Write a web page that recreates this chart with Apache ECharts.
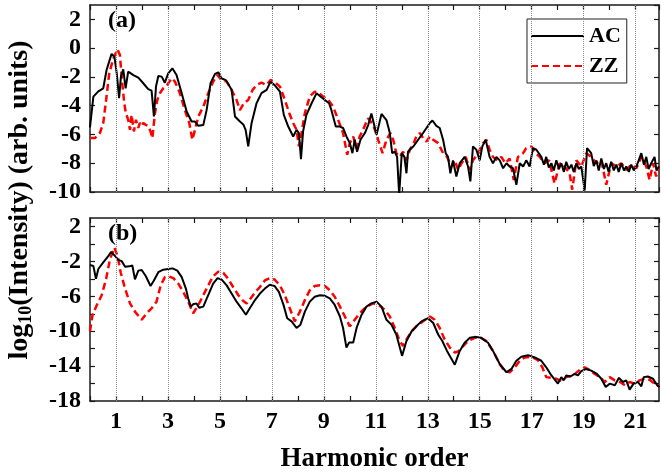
<!DOCTYPE html>
<html>
<head>
<meta charset="utf-8">
<script src="https://cdn.jsdelivr.net/npm/echarts@6/dist/echarts.min.js"></script>
<style>
html,body{margin:0;padding:0;background:#fff;}
#main{width:661px;height:474px;}
</style>
</head>
<body>
<div id="main"></div>
<script>
// harmonic orders with dotted guide lines / labels
var oddOrders = [1,3,5,7,9,11,13,15,17,19,21];
var seriesNames = ['AC','ZZ'];

// panel (a): [harmonic order, log10 intensity]
var acTop = [[0,-5.5],[0.13,-3.37],[0.32,-3.0],[0.51,-2.79],[0.64,-1.5],[0.83,-0.4],[0.94,-0.6],[1.03,-1.75],[1.12,-3.48],[1.19,-1.98],[1.28,-1.47],[1.37,-2.79],[1.47,-1.63],[1.67,-1.87],[1.86,-2.05],[2.05,-2.44],[2.24,-2.85],[2.37,-2.95],[2.46,-4.75],[2.54,-2.67],[2.63,-1.93],[2.76,-1.98],[2.88,-2.4],[3.01,-1.75],[3.17,-1.4],[3.33,-1.86],[3.53,-3.13],[3.72,-4.4],[3.91,-5.1],[4.04,-5.1],[4.17,-5.4],[4.36,-5.35],[4.49,-4.29],[4.64,-2.44],[4.81,-1.79],[4.94,-1.68],[5.06,-2.09],[5.24,-2.24],[5.45,-2.9],[5.58,-4.75],[5.77,-5.1],[5.9,-5.3],[5.99,-5.68],[6.09,-6.83],[6.22,-5.2],[6.41,-3.83],[6.6,-3.13],[6.8,-2.9],[6.95,-2.33],[7.1,-2.56],[7.31,-3.02],[7.46,-4.64],[7.63,-5.45],[7.82,-6.14],[7.95,-5.68],[8.04,-5.9],[8.12,-7.71],[8.2,-5.8],[8.33,-4.64],[8.53,-3.83],[8.72,-3.13],[8.87,-3.36],[9.04,-3.6],[9.2,-3.83],[9.29,-4.3],[9.46,-5.45],[9.62,-5.45],[9.74,-5.55],[9.87,-6.14],[10.0,-6.6],[10.1,-7.3],[10.19,-6.37],[10.28,-7.2],[10.41,-6.37],[10.58,-5.9],[10.71,-5.33],[10.83,-4.55],[11.03,-6.02],[11.22,-4.57],[11.41,-5.0],[11.54,-5.9],[11.63,-7.3],[11.73,-7.2],[11.82,-7.56],[11.9,-10.2],[12.0,-7.3],[12.1,-7.56],[12.18,-8.7],[12.24,-7.2],[12.31,-7.06],[12.46,-6.8],[12.63,-6.37],[12.82,-5.9],[12.95,-5.55],[13.08,-5.2],[13.18,-5.03],[13.33,-5.4],[13.46,-5.55],[13.59,-6.37],[13.69,-7.3],[13.78,-7.56],[13.87,-8.7],[13.97,-7.8],[14.1,-8.92],[14.23,-8.0],[14.42,-7.56],[14.55,-8.23],[14.64,-9.26],[14.74,-6.83],[14.87,-7.06],[15.0,-7.8],[15.1,-6.83],[15.23,-6.37],[15.38,-7.56],[15.51,-8.0],[15.64,-7.56],[15.77,-7.8],[15.9,-8.35],[16.03,-8.0],[16.15,-8.23],[16.28,-8.35],[16.41,-9.5],[16.54,-8.0],[16.67,-8.23],[16.79,-7.8],[16.92,-8.23],[17.05,-6.95],[17.18,-7.06],[17.37,-7.56],[17.47,-8.1],[17.56,-7.56],[17.66,-8.3],[17.76,-8.0],[17.85,-8.5],[17.95,-7.8],[18.05,-8.4],[18.14,-8.0],[18.24,-8.6],[18.33,-7.9],[18.43,-8.4],[18.53,-8.1],[18.62,-8.6],[18.72,-8.0],[18.81,-8.4],[18.91,-8.23],[19.04,-9.9],[19.13,-6.95],[19.29,-7.3],[19.39,-8.2],[19.49,-7.8],[19.58,-8.5],[19.68,-7.67],[19.78,-8.4],[19.87,-8.0],[19.96,-8.6],[20.06,-7.9],[20.16,-8.5],[20.26,-8.1],[20.35,-8.6],[20.45,-8.0],[20.55,-8.5],[20.64,-8.23],[20.74,-8.6],[20.83,-8.1],[20.93,-8.5],[21.03,-8.23],[21.22,-7.3],[21.32,-8.1],[21.41,-7.56],[21.5,-8.4],[21.6,-8.0],[21.73,-7.56],[21.8,-8.5],[21.9,-8.23]];
var zzTop = [[0,-6.25],[0.19,-6.25],[0.38,-5.9],[0.51,-5.21],[0.62,-3.6],[0.74,-1.75],[0.9,-0.7],[1.06,-0.08],[1.15,-0.48],[1.24,-2.44],[1.32,-3.83],[1.38,-4.52],[1.47,-4.98],[1.54,-5.68],[1.6,-4.64],[1.69,-5.79],[1.77,-4.98],[1.86,-5.55],[1.92,-5.2],[1.99,-5.4],[2.05,-5.2],[2.14,-5.33],[2.24,-5.4],[2.33,-5.79],[2.4,-6.25],[2.5,-4.52],[2.59,-3.6],[2.69,-3.13],[2.82,-2.79],[2.97,-2.56],[3.14,-2.09],[3.27,-2.33],[3.46,-3.13],[3.65,-4.3],[3.82,-5.2],[3.94,-6.37],[4.04,-5.68],[4.17,-4.75],[4.36,-4.07],[4.55,-3.13],[4.74,-2.33],[4.9,-1.86],[5.06,-2.21],[5.26,-2.33],[5.45,-2.9],[5.64,-3.6],[5.77,-4.3],[5.92,-3.83],[6.09,-3.6],[6.26,-2.9],[6.41,-2.56],[6.6,-2.4],[6.8,-2.56],[6.95,-2.21],[7.1,-2.33],[7.31,-2.67],[7.5,-3.6],[7.67,-4.52],[7.82,-5.2],[7.95,-5.68],[8.04,-6.83],[8.14,-5.9],[8.27,-4.52],[8.46,-3.36],[8.65,-3.02],[8.82,-3.13],[8.97,-3.36],[9.17,-3.6],[9.36,-4.07],[9.55,-4.98],[9.74,-5.9],[9.9,-7.41],[10.0,-6.6],[10.13,-6.14],[10.26,-6.95],[10.38,-6.14],[10.51,-5.68],[10.7,-4.87],[10.9,-5.33],[11.09,-6.37],[11.26,-7.3],[11.41,-6.37],[11.56,-5.9],[11.67,-6.37],[11.79,-7.3],[11.92,-7.56],[12.05,-7.2],[12.18,-7.8],[12.31,-7.06],[12.46,-6.6],[12.56,-6.14],[12.69,-5.9],[12.82,-6.25],[12.95,-6.5],[13.08,-6.14],[13.21,-6.37],[13.4,-6.6],[13.59,-7.3],[13.74,-7.56],[13.91,-8.23],[14.04,-7.8],[14.17,-8.47],[14.3,-8.0],[14.46,-7.56],[14.62,-8.47],[14.74,-7.8],[14.94,-7.3],[15.13,-6.6],[15.26,-6.37],[15.38,-7.06],[15.51,-7.56],[15.67,-7.8],[15.83,-7.56],[15.99,-8.0],[16.15,-7.67],[16.31,-9.16],[16.47,-7.56],[16.67,-7.3],[16.79,-6.95],[16.99,-6.83],[17.15,-7.3],[17.31,-7.56],[17.5,-8.0],[17.67,-7.8],[17.88,-9.4],[18.08,-8.0],[18.27,-8.23],[18.46,-8.7],[18.56,-9.84],[18.72,-7.8],[18.91,-8.23],[19.1,-7.3],[19.29,-7.56],[19.49,-8.0],[19.68,-7.8],[19.87,-9.5],[20.06,-8.0],[20.26,-8.23],[20.45,-8.0],[20.64,-8.47],[20.83,-8.1],[21.03,-8.35],[21.22,-7.56],[21.41,-8.23],[21.54,-9.16],[21.67,-8.0],[21.79,-8.92],[21.9,-8.23]];

// panel (b)
var acBot = [[0,-2.4],[0.13,-2.5],[0.23,-3.98],[0.32,-2.85],[0.51,-2.1],[0.71,-1.35],[0.81,-0.9],[0.96,-1.35],[1.09,-1.8],[1.22,-1.95],[1.35,-2.59],[1.51,-2.55],[1.63,-2.45],[1.73,-4.05],[1.86,-3.04],[1.99,-2.97],[2.15,-3.68],[2.33,-4.8],[2.46,-4.17],[2.63,-3.22],[2.82,-2.93],[3.01,-2.85],[3.18,-2.78],[3.36,-3.04],[3.53,-3.79],[3.69,-5.1],[3.78,-6.23],[3.88,-7.17],[3.97,-6.9],[4.1,-6.8],[4.2,-7.29],[4.36,-7.17],[4.55,-5.86],[4.74,-4.54],[4.91,-3.9],[5.06,-4.05],[5.26,-4.73],[5.45,-5.67],[5.64,-6.6],[5.83,-7.36],[6.0,-8.1],[6.15,-7.36],[6.35,-6.42],[6.54,-5.67],[6.73,-5.1],[6.92,-4.65],[7.1,-4.8],[7.27,-5.48],[7.45,-7.0],[7.59,-8.5],[7.76,-8.86],[7.95,-9.62],[8.1,-9.24],[8.27,-7.74],[8.46,-6.6],[8.65,-6.04],[8.85,-5.86],[9.04,-5.93],[9.23,-6.23],[9.42,-6.98],[9.62,-8.3],[9.74,-9.62],[9.87,-11.87],[9.97,-11.3],[10.13,-11.3],[10.26,-9.62],[10.45,-8.12],[10.64,-7.17],[10.83,-6.8],[11.03,-6.6],[11.22,-7.17],[11.41,-8.68],[11.6,-9.24],[11.79,-10.37],[12.01,-12.82],[12.18,-11.12],[12.38,-10.0],[12.56,-9.43],[12.76,-8.86],[13.01,-8.5],[13.21,-9.05],[13.4,-10.37],[13.56,-11.12],[13.74,-12.25],[14.04,-13.83],[14.23,-12.25],[14.42,-11.31],[14.62,-10.75],[14.81,-10.64],[15.06,-10.75],[15.32,-11.31],[15.51,-12.25],[15.77,-13.76],[16.03,-14.7],[16.22,-14.32],[16.41,-13.38],[16.6,-12.93],[16.86,-12.74],[17.12,-13.0],[17.37,-13.38],[17.56,-14.13],[17.76,-15.07],[18.01,-16.01],[18.14,-15.26],[18.23,-15.63],[18.33,-15.07],[18.49,-15.19],[18.65,-14.88],[18.78,-15.07],[18.91,-14.58],[19.1,-14.32],[19.29,-14.51],[19.51,-14.88],[19.68,-15.45],[19.85,-16.39],[20.0,-16.01],[20.2,-16.2],[20.36,-15.34],[20.51,-15.82],[20.64,-15.63],[20.77,-16.69],[20.92,-16.01],[21.09,-15.82],[21.22,-16.31],[21.31,-15.26],[21.47,-15.19],[21.67,-15.45],[21.83,-16.2],[21.92,-16.39]];
var zzBot = [[0,-10.0],[0.1,-8.1],[0.26,-7.0],[0.45,-5.86],[0.62,-3.98],[0.77,-1.72],[0.94,-0.4],[1.06,-1.35],[1.18,-3.22],[1.35,-5.1],[1.54,-6.8],[1.73,-7.74],[1.99,-8.68],[2.18,-7.93],[2.37,-7.36],[2.56,-6.6],[2.72,-4.73],[2.88,-3.79],[3.01,-3.68],[3.21,-3.9],[3.4,-4.54],[3.59,-5.48],[3.78,-6.6],[3.97,-7.93],[4.17,-6.98],[4.36,-5.86],[4.55,-4.73],[4.74,-3.68],[4.94,-3.15],[5.13,-3.3],[5.32,-3.98],[5.51,-4.92],[5.71,-5.86],[5.9,-6.53],[6.03,-6.8],[6.18,-6.23],[6.35,-5.55],[6.54,-4.92],[6.73,-4.17],[6.92,-3.9],[7.1,-4.05],[7.31,-4.73],[7.5,-5.86],[7.69,-7.36],[7.88,-8.86],[8.08,-7.74],[8.27,-6.42],[8.46,-5.29],[8.65,-4.8],[8.85,-4.73],[9.04,-4.8],[9.23,-5.29],[9.42,-6.04],[9.62,-7.17],[9.81,-8.3],[10.0,-9.43],[10.19,-8.68],[10.38,-7.93],[10.64,-7.17],[10.9,-6.8],[11.15,-7.06],[11.35,-7.55],[11.54,-8.3],[11.73,-9.62],[11.92,-11.12],[12.05,-11.69],[12.18,-10.94],[12.38,-10.0],[12.56,-9.43],[12.82,-8.86],[13.08,-8.3],[13.27,-8.68],[13.46,-9.62],[13.65,-10.94],[13.85,-11.87],[14.04,-12.44],[14.17,-12.32],[14.36,-11.69],[14.55,-11.12],[14.81,-10.75],[15.0,-10.68],[15.26,-11.12],[15.51,-12.25],[15.77,-13.76],[15.96,-14.58],[16.15,-14.7],[16.35,-14.13],[16.54,-13.38],[16.73,-13.0],[16.99,-12.93],[17.24,-13.31],[17.41,-14.13],[17.56,-15.26],[17.76,-15.34],[17.95,-15.45],[18.14,-15.7],[18.33,-15.26],[18.59,-15.07],[18.85,-14.43],[19.04,-14.13],[19.23,-14.43],[19.42,-14.88],[19.62,-15.26],[19.81,-15.82],[20.0,-15.26],[20.2,-15.63],[20.4,-15.82],[20.59,-16.2],[20.77,-15.82],[20.96,-16.01],[21.15,-15.63],[21.35,-15.45],[21.54,-15.57],[21.73,-16.01],[21.92,-16.31]];

var FONT = 'Liberation Serif';
var AXC = '#1a1a1a';

function xAx(grid, pos, showLabel){
	return {
		type:'value', gridIndex:grid, position:pos, min:0, max:21.9, interval:1,
		axisLine:{show:true, onZero:false, lineStyle:{color:AXC, width:1.5}},
		axisTick:{show:true, inside:true, length:5, lineStyle:{color:AXC, width:1.2}},
		axisLabel:{show:showLabel, margin:9, color:'#000', fontFamily:FONT, fontWeight:'bold', fontSize:24,
			showMaxLabel:false,
			formatter:function(v){ return oddOrders.indexOf(v) >= 0 ? String(v) : ''; }},
		splitLine:{show:false}
	};
}
function yAx(grid, pos, min, step, showLabel){
	return {
		type:'value', gridIndex:grid, position:pos, min:min, max:3, interval:2,
		axisLine:{show:true, onZero:false, lineStyle:{color:AXC, width:1.5}},
		axisTick:{show:true, inside:true, length:5, lineStyle:{color:AXC, width:1.2}},
		axisLabel:{show:showLabel, margin:9, color:'#000', fontFamily:FONT, fontWeight:'bold', fontSize:24,
			showMaxLabel:false,
			formatter:function(v){ return ((v - min) % step === 0) ? String(v) : ''; }},
		splitLine:{show:false}
	};
}

var guide = {
	silent:true, symbol:'none',
	label:{show:false},
	lineStyle:{type:'dotted', color:'#8a8a8a', width:1},
	data: oddOrders.map(function(v){ return {xAxis:v}; })
};

var xAxes = [xAx(0,'bottom',false), xAx(1,'bottom',true), xAx(0,'top',false), xAx(1,'top',false)];
xAxes[1].name = 'Harmonic order';
xAxes[1].nameLocation = 'middle';
xAxes[1].nameGap = 45;
xAxes[1].nameTextStyle = {color:'#000', fontFamily:FONT, fontWeight:'bold', fontSize:27};

var option = {
	animation:false,
	backgroundColor:'#fff',
	grid:[
		{left:90, top:5, width:569, height:187},
		{left:90, top:218, width:569, height:186}
	],
	xAxis: xAxes,
	yAxis: [yAx(0,'left',-10,2,true), yAx(1,'left',-18,4,true), yAx(0,'right',-10,2,false), yAx(1,'right',-18,4,false)],
	legend:{
		data:seriesNames, orient:'vertical', left:527, top:19,
		padding:[6,6,6,3], itemGap:8, itemWidth:53, itemHeight:14,
		borderColor:'#222', borderWidth:1, backgroundColor:'#fff',
		itemStyle:{color:'rgba(0,0,0,0)', borderColor:'rgba(0,0,0,0)', borderWidth:0},
		textStyle:{color:'#000', fontFamily:FONT, fontWeight:'bold', fontSize:22}
	},
	graphic:[
		{type:'text', left:108, top:9, style:{text:'(a)', fill:'#000', font:'bold 24px "Liberation Serif"'}},
		{type:'text', left:108, top:222, style:{text:'(b)', fill:'#000', font:'bold 24px "Liberation Serif"'}},
		{type:'text', x:20, y:200, rotation:Math.PI/2,
			style:{
				text:'{m|log}{s|10}{m|(Intensity) (arb. units)}',
				align:'center', verticalAlign:'middle',
				rich:{
					m:{fontFamily:FONT, fontWeight:'bold', fontSize:28, fill:'#000'},
					s:{fontFamily:FONT, fontWeight:'bold', fontSize:18, fill:'#000', padding:[12,0,0,0]}
				}
			}}
	],
	series:[
		{name:'AC', type:'line', xAxisIndex:0, yAxisIndex:0, data:acTop, showSymbol:false, symbol:'none',
			lineStyle:{color:'#000', width:2}, itemStyle:{color:'#000'}, markLine:guide, z:3},
		{name:'ZZ', type:'line', xAxisIndex:0, yAxisIndex:0, data:zzTop, showSymbol:false, symbol:'none',
			lineStyle:{color:'#ff0000', width:2.5, type:[7,4]}, itemStyle:{color:'#ff0000'}, z:2},
		{name:'AC', type:'line', xAxisIndex:1, yAxisIndex:1, data:acBot, showSymbol:false, symbol:'none',
			lineStyle:{color:'#000', width:2}, itemStyle:{color:'#000'}, markLine:guide, z:3},
		{name:'ZZ', type:'line', xAxisIndex:1, yAxisIndex:1, data:zzBot, showSymbol:false, symbol:'none',
			lineStyle:{color:'#ff0000', width:2.5, type:[7,4]}, itemStyle:{color:'#ff0000'}, z:2}
	]
};

var myChart = echarts.init(document.getElementById('main'));
myChart.setOption(option);
</script>
</body>
</html>
